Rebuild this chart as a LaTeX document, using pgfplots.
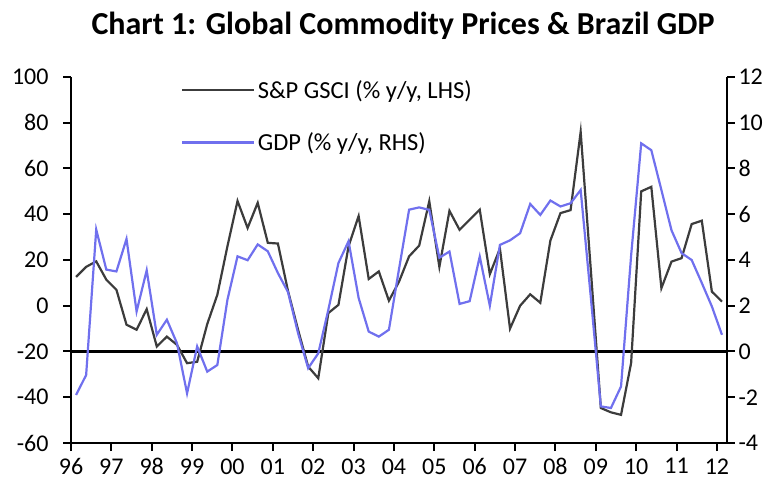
\documentclass[border=0pt]{standalone}
\usepackage{pgfplots}
\pgfplotsset{compat=1.18}
\usepackage{pgfplotstable}
\usepackage{fontspec}
\setmainfont{Carlito}
\definecolor{gscigray}{RGB}{60,60,60}
\definecolor{gdpblue}{RGB}{112,112,238}

\pgfplotstableread{
t gsci gdp
1996.125 12.6 -1.90
1996.375 17.0 -1.03
1996.625 19.4 5.33
1996.875 11.4 3.58
1997.125 7.0 3.50
1997.375 -8.3 4.92
1997.625 -10.5 1.75
1997.875 -1.5 3.55
1998.125 -17.8 0.73
1998.375 -13.5 1.39
1998.625 -17.1 0.36
1998.875 -25.1 -1.83
1999.125 -24.5 0.22
1999.375 -8.0 -0.88
1999.625 4.8 -0.59
1999.875 26.0 2.26
2000.125 45.8 4.16
2000.375 34.0 3.99
2000.625 45.0 4.68
2000.875 27.5 4.38
2001.125 27.2 3.43
2001.375 6.5 2.60
2001.625 -10.5 0.80
2001.875 -26.6 -0.73
2002.125 -31.7 -0.08
2002.375 -3.2 1.83
2002.625 0.4 3.87
2002.875 26.0 4.82
2003.125 39.2 2.34
2003.375 11.7 0.87
2003.625 15.0 0.65
2003.875 2.2 0.95
2004.125 10.5 3.60
2004.375 21.6 6.20
2004.625 26.3 6.30
2004.875 45.7 6.19
2005.125 17.0 4.10
2005.375 41.5 4.37
2005.625 33.2 2.08
2005.875 37.6 2.20
2006.125 42.0 4.15
2006.375 13.8 2.00
2006.625 25.0 4.66
2006.875 -10.0 4.86
2007.125 0.0 5.17
2007.375 5.0 6.45
2007.625 1.3 5.97
2007.875 28.5 6.60
2008.125 40.5 6.34
2008.375 41.8 6.48
2008.625 76.0 7.06
2008.875 16.0 2.40
2009.125 -44.7 -2.40
2009.375 -46.6 -2.47
2009.625 -47.7 -1.53
2009.875 -25.0 4.20
2010.125 50.0 9.10
2010.375 52.0 8.80
2010.625 7.7 7.06
2010.875 19.3 5.30
2011.125 20.8 4.30
2011.375 35.7 4.00
2011.625 37.2 3.00
2011.875 6.2 1.97
2012.125 1.8 0.73
}\datatable

\begin{document}
\begin{tikzpicture}
\useasboundingbox (0,0) rectangle (776bp,481bp);
\pgfplotsset{
  every axis/.append style={
    scale only axis,
    width=656bp, height=366bp,
    at={(71bp,38bp)}, anchor=south west,
    xmin=1996, xmax=2012.25,
    axis line style={black, line width=2.4bp},
    tick style={black, line width=2bp},
    major tick length=8bp,
    tick align=outside,
    tick label style={font=\fontsize{24bp}{27bp}\selectfont},
    /pgf/number format/assume math mode=true,
  },
}
\begin{axis}[
  axis y line*=left,
  axis x line*=bottom,
  ymin=-60, ymax=100,
  ytick={-60,-40,-20,0,20,40,60,80,100},
  xtick={1996,1997,1998,1999,2000,2001,2002,2003,2004,2005,2006,2007,2008,2009,2010,2011,2012},
  xticklabels={96,97,98,99,00,01,02,03,04,05,06,07,08,09,10,11,12},
  yticklabel style={xshift=-11bp},
  xticklabel style={yshift=-4bp},
]
\addplot[black, line width=2.4bp, forget plot] coordinates {(1996,-20) (2012.25,-20)};
\addplot[gscigray, line width=2.2bp] table[x=t, y=gsci] {\datatable};
\end{axis}
\begin{axis}[
  axis y line*=right,
  axis x line=none,
  ymin=-4, ymax=12,
  ytick={-4,-2,0,2,4,6,8,10,12},
  yticklabel style={xshift=0bp},
  legend style={draw=none, fill=none, at={(0.166,1.0)}, anchor=north west,
    font=\fontsize{24.5bp}{27bp}\selectfont, row sep=29bp, inner sep=0pt,
    line width=2.6bp},
  legend cell align=left,
  every legend image post/.style={line width=2.6bp},
  legend image code/.code={\draw[#1, line width=2.6bp] (0bp,0bp) -- (72bp,0bp);},
]
\addlegendimage{gscigray, line width=2.6bp}
\addlegendentry{S\&P GSCI (\% y/y, LHS)}
\addplot[gdpblue, line width=2.2bp] table[x=t, y=gdp] {\datatable};
\addlegendentry{GDP (\% y/y, RHS)}
\end{axis}
\node[font=\bfseries\fontsize{32bp}{36bp}\selectfont] at (403bp,455bp) {Chart 1: Global Commodity Prices \& Brazil GDP};
\end{tikzpicture}
\end{document}
